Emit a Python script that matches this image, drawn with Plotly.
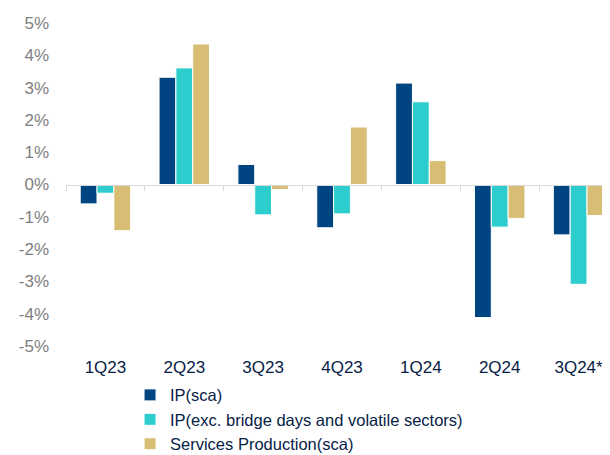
import plotly.graph_objects as go

# ------------------------------- data -------------------------------
quarters = ["1Q23", "2Q23", "3Q23", "4Q23", "1Q24", "2Q24", "3Q24*"]
ip_sca = [-0.60, 3.32, 0.62, -1.34, 3.14, -4.12, -1.56]
ip_exc = [-0.27, 3.61, -0.94, -0.91, 2.56, -1.32, -3.09]
services = [-1.43, 4.35, -0.16, 1.78, 0.74, -1.05, -0.96]

names = ["IP(sca)", "IP(exc. bridge days and volatile sectors)", "Services Production(sca)"]
colors = ["#004481", "#2DCCCD", "#D8BE75"]

ytick_vals = [5, 4, 3, 2, 1, 0, -1, -2, -3, -4, -5]
ytick_text = ["%d%%" % v for v in ytick_vals]

# ------------------------------- figure -----------------------------
fig = go.Figure()

for name, vals, color in zip(names, [ip_sca, ip_exc, services], colors):
    fig.add_trace(go.Bar(x=quarters, y=vals, name=name,
                         marker=dict(color=color, line=dict(color="white", width=1))))

# invisible trace so the bottom label axis knows the categories
fig.add_trace(go.Scatter(x=quarters, y=[0] * len(quarters), xaxis="x2",
                         mode="markers", marker=dict(opacity=0),
                         showlegend=False, hoverinfo="skip"))

fig.update_layout(
    width=610, height=455,
    margin=dict(l=58, r=0, t=15, b=117, autoexpand=False),
    paper_bgcolor="white", plot_bgcolor="white",
    font=dict(family="Liberation Sans, Arial, sans-serif", size=17, color="#072146"),
    barmode="group", bargap=0.36, bargroupgap=0.0,
    showlegend=True,
    legend=dict(x=0.116, xanchor="left", y=-0.098, yanchor="top",
                orientation="v", traceorder="normal",
                font=dict(size=16.5, color="#072146"),
                itemwidth=30, tracegroupgap=0, borderwidth=0,
                bgcolor="rgba(0,0,0,0)"),
    # axis carrying the bars: drawn at the zero line, with boundary ticks
    xaxis=dict(anchor="free", position=0.5, showline=True, linecolor="#d9d9d9",
               linewidth=1, ticks="outside", tickson="boundaries", ticklen=5,
               tickcolor="#d9d9d9", showticklabels=False, showgrid=False,
               zeroline=False, range=[-0.5, 6.5]),
    # axis carrying the labels at the bottom
    xaxis2=dict(overlaying="x", matches="x", anchor="y", side="bottom",
                showline=False, ticks="", showgrid=False, zeroline=False,
                tickfont=dict(size=17, color="#072146"), ticklabelstandoff=9),
    yaxis=dict(range=[-5, 5], tickvals=ytick_vals, ticktext=ytick_text,
               showgrid=False, zeroline=False, showline=False, ticks="",
               tickfont=dict(size=17, color="#808080"), ticklabelstandoff=16),
)

fig.write_html("out.html")
